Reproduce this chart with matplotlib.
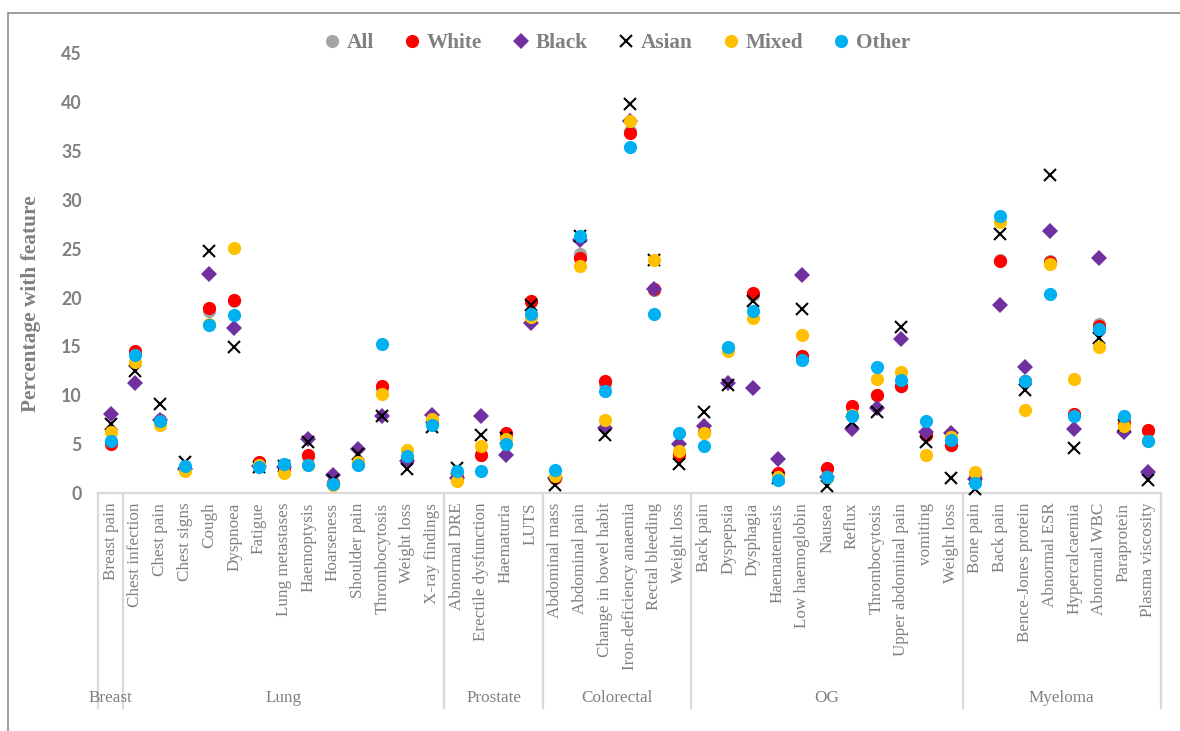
import matplotlib
matplotlib.use("Agg")
import matplotlib.pyplot as plt
import matplotlib.transforms as mtransforms
from matplotlib.patches import Rectangle
import numpy as np

# ---------------- data ----------------
groups = ["Breast", "Lung", "Prostate", "Colorectal", "OG", "Myeloma"]
group_sizes = [1, 13, 4, 6, 11, 8]
categories = [
    "Breast pain",
    "Chest infection", "Chest pain", "Chest signs", "Cough", "Dyspnoea", "Fatigue",
    "Lung metastases", "Haemoptysis", "Hoarseness", "Shoulder pain", "Thrombocytosis",
    "Weight loss", "X-ray findings",
    "Abnormal DRE", "Erectile dysfunction", "Haematuria", "LUTS",
    "Abdominal mass", "Abdominal pain", "Change in bowel habit", "Iron-deficiency anaemia",
    "Rectal bleeding", "Weight loss",
    "Back pain", "Dyspepsia", "Dysphagia", "Haematemesis", "Low haemoglobin", "Nausea",
    "Reflux", "Thrombocytosis", "Upper abdominal pain", "vomiting", "Weight loss",
    "Bone pain", "Back pain", "Bence-Jones protein", "Abnormal ESR", "Hypercalcaemia",
    "Abnormal WBC", "Paraprotein", "Plasma viscosity",
]

all_vals = [5.2,
            14.3, 7.4, 2.6, 18.6, 19.6, 3.1, 2.7, 3.7, 1.0, 3.1, 10.7, 3.4, 7.3,
            1.6, 3.9, 5.9, 19.5,
            1.5, 24.5, 11.2, 37.0, 20.8, 4.0,
            6.2, 14.7, 20.3, 1.9, 14.0, 2.5, 8.8, 10.0, 10.9, 5.9, 4.9,
            1.5, 23.8, 11.5, 23.7, 8.1, 17.3, 7.2, 6.3]
white = [5.0,
         14.5, 7.5, 2.6, 18.9, 19.8, 3.2, 2.6, 3.9, 1.0, 3.0, 10.9, 3.4, 7.2,
         1.6, 3.9, 6.1, 19.7,
         1.5, 24.0, 11.5, 36.8, 20.9, 3.9,
         6.2, 14.8, 20.5, 2.0, 14.0, 2.6, 8.9, 10.0, 10.9, 5.9, 4.9,
         1.5, 23.7, 11.5, 23.6, 8.1, 17.1, 7.2, 6.4]
black = [8.1,
         11.3, 7.5, 2.5, 22.4, 16.9, 2.8, 2.7, 5.5, 1.8, 4.5, 7.9, 3.3, 8.0,
         1.5, 7.9, 3.9, 17.4,
         1.5, 25.9, 6.7, 38.1, 20.9, 5.0,
         6.9, 11.3, 10.7, 3.5, 22.3, 1.6, 6.5, 8.7, 15.8, 6.2, 6.1,
         1.4, 19.2, 12.9, 26.8, 6.6, 24.1, 6.2, 2.2]
asian = [7.1,
         12.5, 9.1, 3.2, 24.8, 14.9, 2.7, 2.8, 5.2, 1.3, 4.0, 7.9, 2.5, 6.8,
         2.6, 5.9, 5.6, 19.2,
         0.8, 26.3, 5.9, 39.8, 23.8, 3.0,
         8.3, 11.1, 19.6, 1.5, 18.8, 0.7, 7.3, 8.3, 17.0, 5.2, 1.5,
         0.4, 26.5, 10.5, 32.5, 4.6, 15.9, 7.0, 1.3]
mixed = [6.2,
         13.4, 7.0, 2.3, 17.3, 25.1, 2.9, 2.0, 2.9, 0.8, 3.2, 10.1, 4.4, 7.6,
         1.2, 4.8, 5.5, 18.0,
         1.7, 23.2, 7.5, 38.1, 23.8, 4.3,
         6.1, 14.5, 17.9, 1.6, 16.2, 1.6, 8.0, 11.7, 12.4, 3.9, 5.7,
         2.2, 27.7, 8.5, 23.4, 11.7, 14.9, 6.9, 5.3]
other = [5.3,
         14.1, 7.4, 2.8, 17.2, 18.2, 2.7, 3.0, 2.9, 0.9, 2.9, 15.2, 3.8, 7.0,
         2.3, 2.3, 5.0, 18.3,
         2.4, 26.3, 10.4, 35.4, 18.3, 6.1,
         4.8, 14.9, 18.6, 1.3, 13.6, 1.6, 7.9, 12.9, 11.6, 7.4, 5.4,
         1.0, 28.3, 11.5, 20.4, 7.9, 16.8, 7.9, 5.3]

series_names = ["All", "White", "Black", "Asian", "Mixed", "Other"]
series_vals = [all_vals, white, black, asian, mixed, other]
series_style = [
    dict(marker="o", color="#a5a5a5", ms=9.5),
    dict(marker="o", color="#ff0000", ms=9.5),
    dict(marker="D", color="#7030a0", ms=8.2),
    dict(marker="x", color="#000000", ms=8.2, mew=1.5),
    dict(marker="o", color="#ffc000", ms=9.5),
    dict(marker="o", color="#00b0f0", ms=9.5),
]

GRAY = "#808080"
SERIF = ["Liberation Serif", "DejaVu Serif"]

# ---------------- figure ----------------
W, H = 1180, 731
fig = plt.figure(figsize=(W / 100, H / 100), dpi=100)
x0, x1, ytop, ybot = 98.3, 1160.7, 53.3, 493.0
ax = fig.add_axes([x0 / W, 1 - ybot / H, (x1 - x0) / W, (ybot - ytop) / H])

x = np.arange(len(categories))
for i, (name, vals, st) in enumerate(zip(series_names, series_vals, series_style)):
    st = dict(st)
    ms = st.pop("ms")
    col = st.pop("color")
    mew = st.pop("mew", 0)
    ax.plot(x, vals, linestyle="none", marker=st["marker"], markersize=ms,
            color=col, markeredgecolor=col, markerfacecolor=col,
            markeredgewidth=mew, label=name, zorder=3 + i, clip_on=False)

ax.set_xlim(-0.5, len(categories) - 0.5)
ax.set_ylim(0, 45)
ax.set_yticks(np.arange(0, 46, 5))
ax.tick_params(axis="y", length=0, pad=12, labelcolor=GRAY)
for lab in ax.get_yticklabels():
    lab.set_fontfamily(["Lato", "DejaVu Sans"])
    lab.set_fontweight("bold")
    lab.set_fontsize(12.8)

ax.set_xticks(x)
ax.set_xticklabels(categories, rotation=90, fontsize=12.3, color=GRAY,
                   family=SERIF, va="top", ha="center")
ax.tick_params(axis="x", length=0, pad=7)

for s in ["top", "right", "left"]:
    ax.spines[s].set_visible(False)
ax.spines["bottom"].set_color("#d9d9d9")
ax.spines["bottom"].set_linewidth(1.6)

# multi-level category axis
trans = mtransforms.blended_transform_factory(ax.transData, ax.transAxes)
sep_bottom = (ybot - 708) / (ybot - ytop)
lab_y = (ybot - 698) / (ybot - ytop)
bounds = np.concatenate([[0], np.cumsum(group_sizes)]) - 0.5
for b in bounds:
    ax.plot([b, b], [0, sep_bottom], transform=trans, color="#d9d9d9",
            lw=1.6, clip_on=False, zorder=1)
for g, lo, hi in zip(groups, bounds[:-1], bounds[1:]):
    ax.text((lo + hi) / 2, lab_y, g, transform=trans, ha="center", va="center",
            fontsize=12.3, color=GRAY, family=SERIF)

ax.set_ylabel("Percentage with feature", fontsize=15.4, fontweight="bold",
              color=GRAY, family=SERIF)
ax.yaxis.set_label_coords((41 - x0) / (x1 - x0), (ybot - 303.5) / (ybot - ytop))

leg = ax.legend(loc="center", bbox_to_anchor=(618 / W, 1 - 43 / H),
                bbox_transform=fig.transFigure, ncol=6, frameon=False,
                handlelength=0.6, handletextpad=0.4, columnspacing=1.5,
                prop=dict(family=SERIF, weight="bold", size=15.3))
for t in leg.get_texts():
    t.set_color(GRAY)

# chart-area border
fig.patches.append(Rectangle((8 / W, -0.05), 1.2, 1 - 13 / H + 0.05,
                             transform=fig.transFigure, fill=False,
                             edgecolor="#8c8c8c", lw=1.2))

fig.savefig("out.png", dpi=100)
